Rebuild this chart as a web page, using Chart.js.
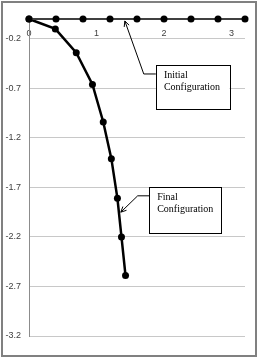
<!DOCTYPE html>
<html>
<head>
<meta charset="utf-8">
<script src="https://cdn.jsdelivr.net/npm/chart.js@4/dist/chart.umd.min.js"></script>
<style>
  body { margin: 0; background: #fff; }
  #frame {
    position: absolute; left: 1px; top: 1px;
    width: 256px; height: 356px;
    box-sizing: border-box;
    border: 2px solid #808080;
    background: #fff;
  }
</style>
</head>
<body>
<div id="frame"><canvas id="chart"></canvas></div>
<script>
// Initial configuration (straight, along y = 0)
const initialX = [0, 0.4, 0.8, 1.2, 1.6, 2.0, 2.4, 2.8, 3.2];
const initialY = [0, 0, 0, 0, 0, 0, 0, 0, 0];

// Final configuration (deflected)
const finalX = [0, 0.39, 0.70, 0.94, 1.10, 1.22, 1.31, 1.37, 1.43];
const finalY = [0, -0.10, -0.34, -0.66, -1.04, -1.41, -1.81, -2.20, -2.59];

// Axis ticks
const xTicks = [0, 1, 2, 3];
const yTicks = [-3.2, -2.7, -2.2, -1.7, -1.2, -0.7, -0.2];

// Callout boxes: text, arrow tip, elbow, box corners (data units)
const callouts = [
    { lines: ['Initial', 'Configuration'], tip: [1.42, -0.02], elbow: [1.70, -0.555], box: [1.88, -0.465, 2.97, -0.91] },
    { lines: ['Final', 'Configuration'], tip: [1.36, -1.95], elbow: [1.61, -1.785], box: [1.78, -1.695, 2.84, -2.16] }
];

const toPoints = (xs, ys) => xs.map((x, i) => ({ x: x, y: ys[i] }));

const calloutPlugin = {
    id: 'callouts',
    afterDraw(chart) {
        const ctx = chart.ctx;
        const sx = chart.scales.x, sy = chart.scales.y;
        const px = v => sx.getPixelForValue(v);
        const py = v => sy.getPixelForValue(v);
        ctx.save();
        callouts.forEach(c => {
            const tx = px(c.tip[0]), ty = py(c.tip[1]);
            const ex = px(c.elbow[0]), ey = py(c.elbow[1]);
            const bl = px(c.box[0]), bt = py(c.box[1]);
            const br = px(c.box[2]), bb = py(c.box[3]);

            // leader line
            ctx.strokeStyle = '#000';
            ctx.lineWidth = 1;
            ctx.beginPath();
            ctx.moveTo(bl, ey);
            ctx.lineTo(ex, ey);
            ctx.lineTo(tx, ty);
            ctx.stroke();

            // arrow head
            const ang = Math.atan2(ty - ey, tx - ex);
            const len = 6;
            ctx.beginPath();
            ctx.moveTo(tx - len * Math.cos(ang - 0.45), ty - len * Math.sin(ang - 0.45));
            ctx.lineTo(tx, ty);
            ctx.lineTo(tx - len * Math.cos(ang + 0.45), ty - len * Math.sin(ang + 0.45));
            ctx.stroke();

            // box
            ctx.fillStyle = '#fff';
            ctx.fillRect(bl, bt, br - bl, bb - bt);
            ctx.strokeRect(Math.round(bl) + 0.5, Math.round(bt) + 0.5, Math.round(br - bl), Math.round(bb - bt));

            // text
            ctx.fillStyle = '#000';
            ctx.font = '10px "Liberation Serif", serif';
            ctx.textBaseline = 'top';
            ctx.textAlign = 'left';
            c.lines.forEach((t, i) => ctx.fillText(t, bl + 8, bt + 5 + i * 12));
        });
        ctx.restore();
    }
};

const tickFont = { family: '"Liberation Sans", sans-serif', size: 9 };

new Chart(document.getElementById('chart').getContext('2d'), {
    type: 'scatter',
    data: {
        datasets: [{
            label: 'Initial Configuration',
            data: toPoints(initialX, initialY),
            showLine: true,
            clip: false,
            borderColor: '#404040',
            borderWidth: 2,
            pointRadius: 3.5,
            pointBackgroundColor: '#000',
            pointBorderColor: '#000',
            pointBorderWidth: 0
        }, {
            label: 'Final Configuration',
            data: toPoints(finalX, finalY),
            showLine: true,
            clip: false,
            borderColor: '#000',
            borderWidth: 2.5,
            pointRadius: 3.5,
            pointBackgroundColor: '#000',
            pointBorderColor: '#000',
            pointBorderWidth: 0
        }]
    },
    options: {
        responsive: true,
        maintainAspectRatio: false,
        animation: false,
        layout: { padding: { left: 0, right: 10, top: 16, bottom: 19 } },
        plugins: {
            legend: { display: false },
            tooltip: { enabled: false }
        },
        scales: {
            x: {
                type: 'linear',
                position: { y: 0 },
                min: 0,
                max: 3.2,
                afterBuildTicks: s => { s.ticks = xTicks.map(v => ({ value: v })); },
                grid: { display: false, drawTicks: false },
                border: { display: true, color: '#808080', width: 1 },
                ticks: { font: tickFont, color: '#404040', padding: 9, maxRotation: 0, callback: v => String(v) }
            },
            y: {
                type: 'linear',
                min: -3.2,
                max: 0,
                afterBuildTicks: s => { s.ticks = yTicks.map(v => ({ value: v })); },
                afterFit: s => { s.width = 26; },
                grid: { color: '#c8c8c8', lineWidth: 1, drawTicks: false },
                border: { display: true, color: '#8c8c8c', width: 1 },
                ticks: { font: tickFont, color: '#404040', padding: 8, callback: v => v.toFixed(1) }
            }
        }
    },
    plugins: [calloutPlugin]
});
</script>
</body>
</html>
